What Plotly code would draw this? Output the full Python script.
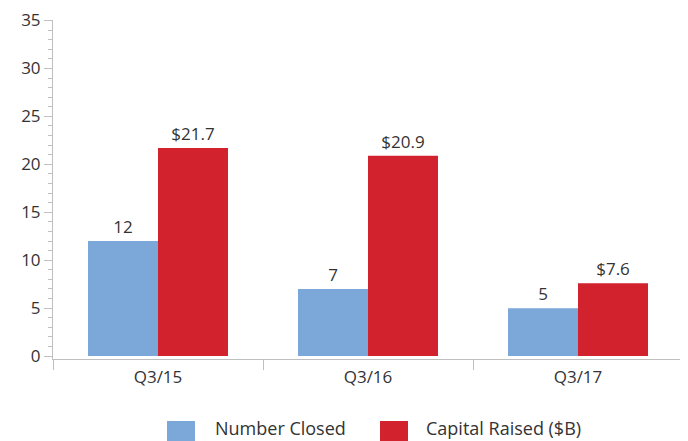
import plotly.graph_objects as go

categories = ["Q3/15", "Q3/16", "Q3/17"]
number_closed = [12, 7, 5]
capital_raised = [21.7, 20.9, 7.6]
number_labels = ["12", "7", "5"]
capital_labels = ["$21.7", "$20.9", "$7.6"]
series_names = ["Number Closed", "Capital Raised ($B)"]
y_ticks = [0, 5, 10, 15, 20, 25, 30, 35]

BLUE = "#7BA7D9"
RED = "#D2222D"
TXT = "#333333"
AX = "#BFBFBF"
FONT = "Open Sans, Noto Sans, sans-serif"

fig = go.Figure()
fig.add_trace(go.Bar(x=categories, y=number_closed, name=series_names[0],
                     marker=dict(color=BLUE, line=dict(width=0)),
                     text=number_labels, textposition="outside",
                     textfont=dict(size=17, color=TXT, family=FONT),
                     cliponaxis=False, showlegend=False))
fig.add_trace(go.Bar(x=categories, y=capital_raised, name=series_names[1],
                     marker=dict(color=RED, line=dict(width=0)),
                     text=capital_labels, textposition="outside",
                     textfont=dict(size=17, color=TXT, family=FONT),
                     cliponaxis=False, showlegend=False))

# custom legend (large swatches like the original)
L, T, PW, PH = 45, 12, 630, 339
def fx(px):
    return (px - L) / PW
def fy(py):
    return (T + PH - py) / PH

legend_items = [(series_names[0], BLUE, 159, 205), (series_names[1], RED, 372, 416)]
for name, col, sx, tx in legend_items:
    fig.add_shape(type="rect", xref="paper", yref="paper",
                  x0=fx(sx), x1=fx(sx + 28), y0=fy(413), y1=fy(441),
                  fillcolor=col, line=dict(width=0))
    fig.add_annotation(xref="paper", yref="paper", x=fx(tx), y=fy(420),
                       xanchor="left", yanchor="middle", text=name, showarrow=False,
                       font=dict(size=18, color=TXT, family=FONT))

fig.update_layout(
    width=688, height=441,
    margin=dict(l=L, r=688 - L - PW, t=T, b=441 - T - PH, autoexpand=False),
    paper_bgcolor="white", plot_bgcolor="white",
    barmode="group", bargap=1/3, bargroupgap=0,
    font=dict(family=FONT, size=16, color=TXT),
    showlegend=False,
    xaxis=dict(type="category", tickson="boundaries", ticks="outside", ticklen=10,
               tickcolor=AX, showline=True, linecolor=AX, linewidth=1,
               showgrid=False, tickfont=dict(size=17, color=TXT), automargin=False,
               ticklabelstandoff=3),
    yaxis=dict(range=[-0.3, 35.05], tickvals=y_ticks,
               ticks="outside", ticklen=8, tickcolor=AX, showline=True,
               linecolor=AX, linewidth=1, showgrid=False, zeroline=False,
               tickfont=dict(size=17, color=TXT), automargin=False,
               minor=dict(dtick=1, tick0=0, ticks="outside", ticklen=4, tickcolor=AX)),
)

fig.write_html("out.html")
